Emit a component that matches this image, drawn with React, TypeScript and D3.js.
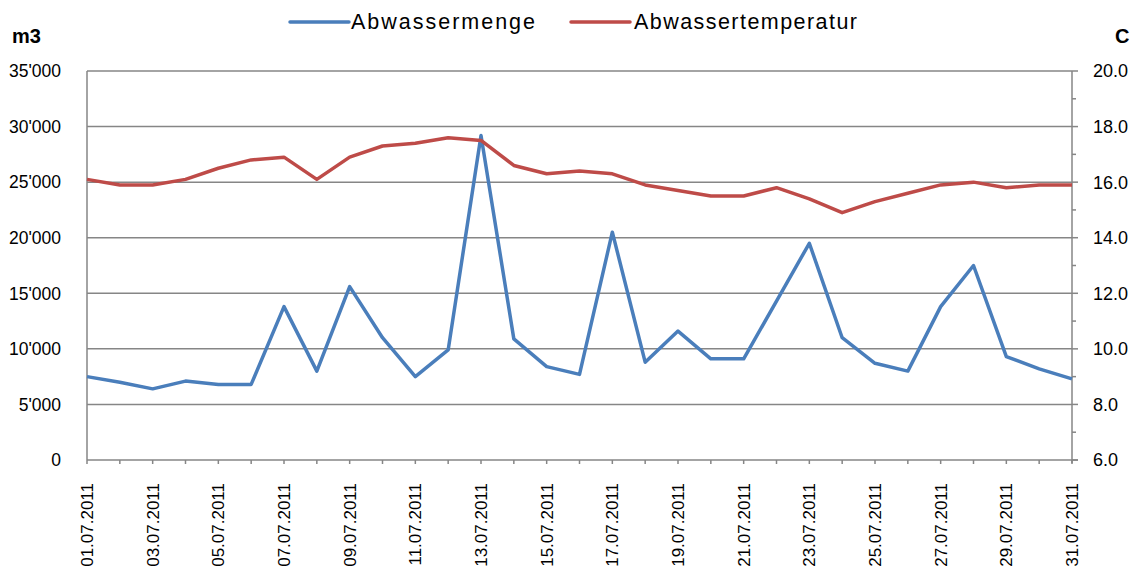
import React from "react";
import * as d3 from "d3";

const dates: string[] = Array.from({ length: 31 }, (_, i) =>
  `${String(i + 1).padStart(2, "0")}.07.2011`
);

// Abwassermenge in m3
const menge: number[] = [
  7500, 7000, 6400, 7100, 6800, 6800, 13800, 8000, 15600, 11000, 7500, 9900,
  29200, 10900, 8400, 7700, 20500, 8800, 11600, 9100, 9100, 14300, 19500,
  11000, 8700, 8000, 13800, 17500, 9300, 8200, 7300,
];

// Abwassertemperatur in C
const temperatur: number[] = [
  16.1, 15.9, 15.9, 16.1, 16.5, 16.8, 16.9, 16.1, 16.9, 17.3, 17.4, 17.6, 17.5,
  16.6, 16.3, 16.4, 16.3, 15.9, 15.7, 15.5, 15.5, 15.8, 15.4, 14.9, 15.3, 15.6,
  15.9, 16.0, 15.8, 15.9, 15.9,
];

const leftTicks: number[] = [0, 5000, 10000, 15000, 20000, 25000, 30000, 35000];
const rightTicks: number[] = [6, 8, 10, 12, 14, 16, 18, 20];
const rightMinor: number[] = [7, 9, 11, 13, 15, 17, 19];

const FONT = "'Liberation Sans', Arial, sans-serif";
const BLUE = "#4a7ebb";
const RED = "#be4b48";
const GRID = "#868686";

const App: React.FC = () => {
  const width = 1143;
  const height = 576;
  const margin = { top: 71, right: 71, bottom: 116, left: 87 };

  const x = d3
    .scalePoint<string>()
    .domain(dates)
    .range([margin.left, width - margin.right]);

  const yLeft = d3
    .scaleLinear()
    .domain([0, 35000])
    .range([height - margin.bottom, margin.top]);

  const yRight = d3
    .scaleLinear()
    .domain([6, 20])
    .range([height - margin.bottom, margin.top]);

  const fmtLeft = (v: number) => d3.format(",")(v).replace(/,/g, "'");

  const lineMenge = d3
    .line<number>()
    .x((_, i) => x(dates[i]) ?? 0)
    .y((d) => yLeft(d));

  const lineTemp = d3
    .line<number>()
    .x((_, i) => x(dates[i]) ?? 0)
    .y((d) => yRight(d));

  const x0 = margin.left;
  const x1 = width - margin.right;
  const yb = height - margin.bottom;

  return (
    <svg
      width={width}
      height={height}
      style={{ position: "absolute", left: 0, top: 0, background: "#fff" }}
      fontFamily={FONT}
    >
      {/* Gitternetz */}
      {leftTicks
        .filter((t) => t > 0)
        .map((t) => (
          <line
            key={"g" + t}
            x1={x0}
            x2={x1}
            y1={yLeft(t)}
            y2={yLeft(t)}
            stroke={GRID}
            strokeWidth={1.5}
          />
        ))}

      {/* Achsen */}
      <line x1={x0} x2={x0} y1={margin.top} y2={yb} stroke={GRID} strokeWidth={1.5} />
      <line x1={x1} x2={x1} y1={margin.top} y2={yb + 3} stroke={GRID} strokeWidth={1.5} />
      <line x1={x0} x2={x1 + 6} y1={yb} y2={yb} stroke={GRID} strokeWidth={1.5} />

      {/* linke Achse */}
      {leftTicks.map((t) => (
        <text
          key={"l" + t}
          x={61}
          y={yLeft(t)}
          dy="0.36em"
          textAnchor="end"
          fontSize={17.5}
          fill="#000"
        >
          {fmtLeft(t)}
        </text>
      ))}

      {/* rechte Achse */}
      {rightTicks.map((t) => (
        <g key={"r" + t}>
          <line x1={x1} x2={x1 + 6} y1={yRight(t)} y2={yRight(t)} stroke={GRID} strokeWidth={1.5} />
          <text
            x={1093}
            y={yRight(t)}
            dy="0.36em"
            fontSize={18}
            fill="#000"
          >
            {d3.format(".1f")(t)}
          </text>
        </g>
      ))}
      {rightMinor.map((t) => (
        <line
          key={"rm" + t}
          x1={x1}
          x2={x1 + 4}
          y1={yRight(t)}
          y2={yRight(t)}
          stroke={GRID}
          strokeWidth={1.5}
        />
      ))}

      {/* x-Achse */}
      {dates.map((d, i) => (
        <g key={d}>
          <line
            x1={x(d)}
            x2={x(d)}
            y1={yb}
            y2={yb + 4}
            stroke={GRID}
            strokeWidth={1.5}
          />
          {i % 2 === 0 && (
            <text
              transform={`translate(${x(d)},483) rotate(-90)`}
              dy="0.36em"
              textAnchor="end"
              fontSize={17}
              fill="#000"
            >
              {d}
            </text>
          )}
        </g>
      ))}

      {/* Linien */}
      <path d={lineMenge(menge) ?? ""} fill="none" stroke={BLUE} strokeWidth={3.5} strokeLinejoin="round" />
      <path d={lineTemp(temperatur) ?? ""} fill="none" stroke={RED} strokeWidth={3.5} strokeLinejoin="round" />

      {/* Achsentitel */}
      <text x={12} y={43} fontSize={20} fontWeight="bold" fill="#000">
        m3
      </text>
      <text x={1115} y={43} fontSize={20} fontWeight="bold" fill="#000">
        C
      </text>

      {/* Legende */}
      <line x1={290} x2={349} y1={22} y2={22} stroke={BLUE} strokeWidth={3.5} strokeLinecap="round" />
      <text x={351} y={29} fontSize={21.5} textLength={184} lengthAdjust="spacing" fill="#000">
        Abwassermenge
      </text>
      <line x1={571} x2={630} y1={22} y2={22} stroke={RED} strokeWidth={3.5} strokeLinecap="round" />
      <text x={634} y={29} fontSize={21.5} textLength={223} lengthAdjust="spacing" fill="#000">
        Abwassertemperatur
      </text>
    </svg>
  );
};

export default App;
